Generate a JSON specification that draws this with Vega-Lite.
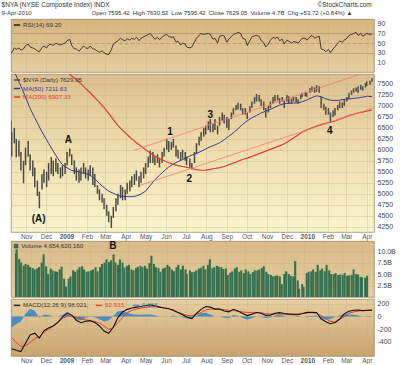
{
"$schema": "https://vega.github.io/schema/vega-lite/v6.json",
"autosize": {"type": "pad"},
"padding": {"left": 1, "top": 1, "right": 0, "bottom": 0},
"background": "white",
"title": {
 "text": "$NYA (NYSE Composite Index) INDX\u2003\u2003\u2003\u2003\u2003\u2003\u2003\u2003\u2003\u2003\u2003\u2003\u2003\u2003\u2003\u2003\u2003\u2003\u2003\u2003\u2003\u2003\u2003\u2003\u2003\u2003\u2003\u2003\u2003\u2003\u2003\u2003©StockCharts.com",
 "subtitle": "9-Apr-2010\u2003\u2003\u2003\u2003\u2003\u2003\u2003\u2003\u2003\u2003Open 7595.42\u2002High 7630.52\u2002Low 7595.42\u2002Close 7629.05\u2002Volume 4.7B\u2002Chg +53.72 (+0.84%) ▲",
 "anchor": "start", "font": "Liberation Sans", "fontSize": 6.5, "fontWeight": "normal", "color": "#333",
 "subtitleFont": "Liberation Sans", "subtitleFontSize": 6, "subtitleColor": "#333", "subtitlePadding": 1.5,
 "offset": 3, "dx": -9
},
"config": {
 "font": "Liberation Sans",
 "view": {"stroke": "#9c8c6c", "strokeWidth": 0.8},
 "axis": {"labelFont": "Liberation Sans", "labelFontSize": 7, "labelColor": "#444", "domain": false, "ticks": false, "gridColor": "#bfae88", "gridOpacity": 0.55, "gridWidth": 0.6, "title": null, "labelPadding": 3, "labelOverlap": false, "labelFlush": false},
 "legend": {"orient": "top-left", "title": null, "offset": 1, "padding": 1, "symbolType": "stroke", "symbolSize": 40, "symbolStrokeWidth": 1.5, "labelFontSize": 6.2, "labelFont": "Liberation Sans", "labelColor": "#333", "rowPadding": 0.5, "labelOffset": 2, "columnPadding": 3}
},
"datasets": {
 "daily": [
{"d":"2008-10-09","h":6660,"l":6100,"v":9.5,"r":32},{"d":"2008-10-10","h":6400,"l":5850,"v":10.4,"r":30},
{"d":"2008-10-14","h":6500,"l":6150,"v":8.3,"r":40},{"d":"2008-10-17","h":6250,"l":5830,"v":7.5,"r":37},
{"d":"2008-10-21","h":6210,"l":5850,"v":6.8,"r":40},{"d":"2008-10-24","h":5950,"l":5530,"v":7.2,"r":35},
{"d":"2008-10-28","h":5750,"l":5240,"v":7.0,"r":38},{"d":"2008-10-31","h":6050,"l":5650,"v":6.5,"r":45},
{"d":"2008-11-04","h":6200,"l":5850,"v":6.3,"r":48},{"d":"2008-11-07","h":5900,"l":5530,"v":6.0,"r":42},
{"d":"2008-11-11","h":5760,"l":5400,"v":6.2,"r":40},{"d":"2008-11-14","h":5600,"l":5150,"v":6.5,"r":38},
{"d":"2008-11-18","h":5300,"l":4950,"v":7.5,"r":34},{"d":"2008-11-21","h":5050,"l":4670,"v":9.3,"r":32},
{"d":"2008-11-25","h":5450,"l":5100,"v":6.7,"r":41},{"d":"2008-11-28","h":5550,"l":5250,"v":5.0,"r":44},
{"d":"2008-12-02","h":5500,"l":5150,"v":6.2,"r":40},{"d":"2008-12-05","h":5700,"l":5300,"v":5.8,"r":46},
{"d":"2008-12-09","h":5830,"l":5450,"v":5.6,"r":48},{"d":"2008-12-12","h":5750,"l":5400,"v":5.5,"r":45},
{"d":"2008-12-16","h":5800,"l":5500,"v":6.0,"r":50},{"d":"2008-12-19","h":5700,"l":5450,"v":6.6,"r":48},
{"d":"2008-12-23","h":5600,"l":5350,"v":4.0,"r":46},{"d":"2008-12-26","h":5650,"l":5400,"v":2.3,"r":48},
{"d":"2008-12-30","h":5700,"l":5450,"v":4.0,"r":50},{"d":"2009-01-02","h":5950,"l":5650,"v":4.5,"r":55},
{"d":"2009-01-06","h":6030,"l":5850,"v":5.8,"r":58},{"d":"2009-01-09","h":5900,"l":5650,"v":5.5,"r":45},
{"d":"2009-01-13","h":5760,"l":5450,"v":6.0,"r":38},{"d":"2009-01-16","h":5600,"l":5300,"v":6.5,"r":38},
{"d":"2009-01-20","h":5550,"l":5250,"v":6.7,"r":33},{"d":"2009-01-23","h":5600,"l":5300,"v":6.0,"r":38},
{"d":"2009-01-27","h":5700,"l":5450,"v":5.5,"r":44},{"d":"2009-01-30","h":5600,"l":5350,"v":5.6,"r":40},
{"d":"2009-02-03","h":5550,"l":5300,"v":5.8,"r":39},{"d":"2009-02-06","h":5650,"l":5400,"v":6.0,"r":44},
{"d":"2009-02-10","h":5600,"l":5200,"v":6.5,"r":38},{"d":"2009-02-13","h":5450,"l":5150,"v":5.6,"r":37},
{"d":"2009-02-17","h":5200,"l":5000,"v":6.5,"r":33},{"d":"2009-02-20","h":5100,"l":4850,"v":7.2,"r":31},
{"d":"2009-02-24","h":5000,"l":4800,"v":7.5,"r":34},{"d":"2009-02-27","h":4900,"l":4650,"v":8.2,"r":30},
{"d":"2009-03-03","h":4750,"l":4500,"v":7.6,"r":27},{"d":"2009-03-06","h":4600,"l":4350,"v":8.0,"r":26},
{"d":"2009-03-10","h":4500,"l":4220,"v":9.3,"r":36},{"d":"2009-03-13","h":4700,"l":4450,"v":7.5,"r":48},
{"d":"2009-03-17","h":4900,"l":4600,"v":7.0,"r":52},{"d":"2009-03-20","h":5000,"l":4750,"v":8.2,"r":55},
{"d":"2009-03-24","h":5200,"l":4900,"v":7.5,"r":60},{"d":"2009-03-27","h":5150,"l":4850,"v":6.4,"r":57},
{"d":"2009-03-31","h":5100,"l":4850,"v":6.8,"r":55},{"d":"2009-04-03","h":5250,"l":5000,"v":7.0,"r":59},
{"d":"2009-04-07","h":5300,"l":5050,"v":6.0,"r":56},{"d":"2009-04-10","h":5400,"l":5150,"v":5.8,"r":60},
{"d":"2009-04-14","h":5450,"l":5200,"v":6.3,"r":58},{"d":"2009-04-17","h":5530,"l":5300,"v":6.6,"r":62},
{"d":"2009-04-21","h":5400,"l":5150,"v":6.8,"r":55},{"d":"2009-04-24","h":5500,"l":5250,"v":6.5,"r":60},
{"d":"2009-04-28","h":5600,"l":5350,"v":6.8,"r":63},{"d":"2009-05-01","h":5700,"l":5450,"v":6.2,"r":65},
{"d":"2009-05-05","h":5850,"l":5600,"v":7.4,"r":68},{"d":"2009-05-08","h":5980,"l":5700,"v":9.0,"r":70},
{"d":"2009-05-12","h":5950,"l":5700,"v":7.2,"r":63},{"d":"2009-05-15","h":5850,"l":5650,"v":6.5,"r":58},
{"d":"2009-05-19","h":5900,"l":5700,"v":6.3,"r":62},{"d":"2009-05-22","h":5800,"l":5600,"v":5.5,"r":57},
{"d":"2009-05-26","h":5950,"l":5700,"v":6.2,"r":62},{"d":"2009-05-29","h":6050,"l":5850,"v":6.4,"r":66},
{"d":"2009-06-02","h":6250,"l":6000,"v":7.0,"r":68},{"d":"2009-06-05","h":6200,"l":5950,"v":6.6,"r":64},
{"d":"2009-06-09","h":6180,"l":6000,"v":6.0,"r":62},{"d":"2009-06-12","h":6250,"l":6050,"v":5.6,"r":63},
{"d":"2009-06-16","h":6100,"l":5850,"v":6.5,"r":52},{"d":"2009-06-19","h":6000,"l":5800,"v":7.0,"r":54},
{"d":"2009-06-23","h":5950,"l":5750,"v":6.0,"r":46},{"d":"2009-06-26","h":6000,"l":5800,"v":6.8,"r":50},
{"d":"2009-06-30","h":5950,"l":5750,"v":6.0,"r":48},{"d":"2009-07-02","h":5850,"l":5650,"v":5.0,"r":42},
{"d":"2009-07-07","h":5800,"l":5600,"v":5.8,"r":40},{"d":"2009-07-10","h":5700,"l":5550,"v":5.4,"r":42},
{"d":"2009-07-14","h":5950,"l":5700,"v":5.5,"r":52},{"d":"2009-07-17","h":6150,"l":5900,"v":5.8,"r":60},
{"d":"2009-07-21","h":6300,"l":6100,"v":6.2,"r":66},{"d":"2009-07-24","h":6400,"l":6200,"v":6.4,"r":70},
{"d":"2009-07-28","h":6500,"l":6300,"v":6.8,"r":68},{"d":"2009-07-31","h":6550,"l":6350,"v":6.0,"r":69},
{"d":"2009-08-04","h":6650,"l":6450,"v":7.0,"r":70},{"d":"2009-08-07","h":6700,"l":6400,"v":8.2,"r":68},
{"d":"2009-08-11","h":6600,"l":6400,"v":6.3,"r":58},{"d":"2009-08-14","h":6700,"l":6450,"v":6.5,"r":60},
{"d":"2009-08-18","h":6550,"l":6350,"v":6.8,"r":50},{"d":"2009-08-21","h":6750,"l":6550,"v":6.6,"r":64},
{"d":"2009-08-25","h":6850,"l":6650,"v":6.5,"r":66},{"d":"2009-08-28","h":6800,"l":6600,"v":6.1,"r":65},
{"d":"2009-09-01","h":6750,"l":6500,"v":6.2,"r":52},{"d":"2009-09-04","h":6700,"l":6450,"v":4.8,"r":58},
{"d":"2009-09-08","h":6850,"l":6700,"v":5.3,"r":64},{"d":"2009-09-11","h":6950,"l":6800,"v":5.6,"r":68},
{"d":"2009-09-15","h":7020,"l":6900,"v":6.2,"r":70},{"d":"2009-09-18","h":7070,"l":6920,"v":6.5,"r":72},
{"d":"2009-09-22","h":7050,"l":6900,"v":5.5,"r":70},{"d":"2009-09-25","h":6950,"l":6800,"v":5.8,"r":60},
{"d":"2009-09-29","h":6950,"l":6800,"v":5.2,"r":58},{"d":"2009-10-02","h":6850,"l":6700,"v":6.0,"r":45},
{"d":"2009-10-06","h":7000,"l":6850,"v":5.6,"r":55},{"d":"2009-10-09","h":7100,"l":6950,"v":5.0,"r":63},
{"d":"2009-10-13","h":7200,"l":7050,"v":5.4,"r":65},{"d":"2009-10-16","h":7270,"l":7100,"v":5.8,"r":66},
{"d":"2009-10-20","h":7250,"l":7100,"v":5.8,"r":64},{"d":"2009-10-23","h":7150,"l":7000,"v":6.0,"r":56},
{"d":"2009-10-27","h":7100,"l":6900,"v":6.3,"r":50},{"d":"2009-10-30","h":6950,"l":6730,"v":6.7,"r":42},
{"d":"2009-11-03","h":7000,"l":6850,"v":5.5,"r":48},{"d":"2009-11-06","h":7100,"l":6950,"v":5.0,"r":56},
{"d":"2009-11-10","h":7200,"l":7050,"v":4.8,"r":62},{"d":"2009-11-13","h":7250,"l":7100,"v":4.5,"r":60},
{"d":"2009-11-17","h":7250,"l":7120,"v":4.6,"r":62},{"d":"2009-11-20","h":7180,"l":7050,"v":4.7,"r":55},
{"d":"2009-11-24","h":7200,"l":7100,"v":4.5,"r":58},{"d":"2009-11-27","h":7120,"l":6950,"v":2.8,"r":48},
{"d":"2009-12-01","h":7250,"l":7100,"v":5.0,"r":56},{"d":"2009-12-04","h":7220,"l":7050,"v":5.6,"r":54},
{"d":"2009-12-08","h":7170,"l":7050,"v":5.0,"r":50},{"d":"2009-12-11","h":7200,"l":7100,"v":4.6,"r":53},
{"d":"2009-12-15","h":7200,"l":7080,"v":4.5,"r":52},{"d":"2009-12-18","h":7150,"l":7050,"v":7.8,"r":50},
{"d":"2009-12-22","h":7250,"l":7150,"v":3.6,"r":56},{"d":"2009-12-24","h":7300,"l":7200,"v":1.8,"r":60},
{"d":"2009-12-29","h":7320,"l":7220,"v":2.8,"r":60},{"d":"2009-12-31","h":7300,"l":7200,"v":2.2,"r":56},
{"d":"2010-01-05","h":7400,"l":7300,"v":5.2,"r":63},{"d":"2010-01-08","h":7450,"l":7330,"v":5.5,"r":66},
{"d":"2010-01-12","h":7420,"l":7300,"v":5.6,"r":60},{"d":"2010-01-15","h":7470,"l":7320,"v":6.0,"r":62},
{"d":"2010-01-19","h":7450,"l":7300,"v":5.5,"r":64},{"d":"2010-01-22","h":7200,"l":6950,"v":7.0,"r":38},
{"d":"2010-01-26","h":7050,"l":6900,"v":5.8,"r":36},{"d":"2010-01-29","h":6980,"l":6800,"v":6.2,"r":32},
{"d":"2010-02-02","h":6950,"l":6800,"v":5.6,"r":37},{"d":"2010-02-05","h":6850,"l":6620,"v":7.0,"r":30},
{"d":"2010-02-09","h":6900,"l":6750,"v":5.8,"r":38},{"d":"2010-02-12","h":6950,"l":6780,"v":5.0,"r":42},
{"d":"2010-02-16","h":7020,"l":6900,"v":5.0,"r":50},{"d":"2010-02-19","h":7100,"l":6950,"v":5.2,"r":54},
{"d":"2010-02-23","h":7080,"l":6950,"v":4.8,"r":52},{"d":"2010-02-26","h":7150,"l":7000,"v":4.9,"r":56},
{"d":"2010-03-02","h":7200,"l":7100,"v":4.8,"r":60},{"d":"2010-03-05","h":7300,"l":7150,"v":5.2,"r":66},
{"d":"2010-03-09","h":7350,"l":7250,"v":4.6,"r":68},{"d":"2010-03-12","h":7400,"l":7300,"v":4.7,"r":70},
{"d":"2010-03-16","h":7420,"l":7320,"v":4.8,"r":72},{"d":"2010-03-19","h":7450,"l":7300,"v":6.0,"r":66},
{"d":"2010-03-23","h":7480,"l":7370,"v":5.0,"r":70},{"d":"2010-03-26","h":7450,"l":7350,"v":4.9,"r":64},
{"d":"2010-03-30","h":7520,"l":7420,"v":4.4,"r":68},{"d":"2010-04-01","h":7560,"l":7450,"v":4.3,"r":70},
{"d":"2010-04-06","h":7570,"l":7480,"v":4.2,"r":68},{"d":"2010-04-09","h":7630,"l":7550,"v":4.65,"r":69.2}
 ],
 "wk": [
{"d":"2008-10-10","a":7900,"b":9050,"m":-505,"s":-330,"h":-175},
{"d":"2008-10-17","a":7680,"b":8950,"m":-530,"s":-410,"h":-120},
{"d":"2008-10-24","a":7450,"b":8850,"m":-550,"s":-470,"h":-80},
{"d":"2008-10-31","a":7200,"b":8750,"m":-420,"s":-460,"h":40},
{"d":"2008-11-07","a":6940,"b":8640,"m":-290,"s":-410,"h":120},
{"d":"2008-11-14","a":6730,"b":8530,"m":-262,"s":-345,"h":83},
{"d":"2008-11-21","a":6520,"b":8420,"m":-340,"s":-320,"h":-20},
{"d":"2008-11-28","a":6330,"b":8310,"m":-225,"s":-250,"h":25},
{"d":"2008-12-05","a":6150,"b":8200,"m":-180,"s":-200,"h":20},
{"d":"2008-12-12","a":5970,"b":8090,"m":-150,"s":-150,"h":0},
{"d":"2008-12-19","a":5800,"b":7980,"m":-95,"s":-95,"h":0},
{"d":"2008-12-26","a":5660,"b":7870,"m":-10,"s":-30,"h":20},
{"d":"2009-01-02","a":5590,"b":7780,"m":55,"s":0,"h":55},
{"d":"2009-01-09","a":5530,"b":7680,"m":20,"s":10,"h":10},
{"d":"2009-01-16","a":5510,"b":7600,"m":-60,"s":-15,"h":-45},
{"d":"2009-01-23","a":5490,"b":7500,"m":-100,"s":-40,"h":-60},
{"d":"2009-01-30","a":5460,"b":7400,"m":-75,"s":-55,"h":-20},
{"d":"2009-02-06","a":5425,"b":7300,"m":-70,"s":-64,"h":-6},
{"d":"2009-02-13","a":5340,"b":7190,"m":-95,"s":-80,"h":-15},
{"d":"2009-02-20","a":5230,"b":7080,"m":-150,"s":-105,"h":-45},
{"d":"2009-02-27","a":5140,"b":6960,"m":-230,"s":-150,"h":-80},
{"d":"2009-03-06","a":5060,"b":6830,"m":-265,"s":-205,"h":-60},
{"d":"2009-03-13","a":5010,"b":6690,"m":-170,"s":-175,"h":5},
{"d":"2009-03-20","a":4965,"b":6550,"m":-20,"s":-100,"h":80},
{"d":"2009-03-27","a":4940,"b":6450,"m":70,"s":-20,"h":90},
{"d":"2009-04-03","a":4935,"b":6350,"m":110,"s":55,"h":55},
{"d":"2009-04-10","a":4935,"b":6250,"m":130,"s":95,"h":35},
{"d":"2009-04-17","a":4950,"b":6160,"m":145,"s":115,"h":30},
{"d":"2009-04-24","a":4995,"b":6080,"m":155,"s":130,"h":25},
{"d":"2009-05-01","a":5060,"b":6000,"m":170,"s":140,"h":30},
{"d":"2009-05-08","a":5190,"b":5930,"m":180,"s":150,"h":30},
{"d":"2009-05-15","a":5320,"b":5860,"m":165,"s":150,"h":15},
{"d":"2009-05-22","a":5420,"b":5800,"m":145,"s":145,"h":0},
{"d":"2009-05-29","a":5520,"b":5750,"m":130,"s":135,"h":-5},
{"d":"2009-06-05","a":5610,"b":5705,"m":120,"s":120,"h":0},
{"d":"2009-06-12","a":5680,"b":5670,"m":100,"s":85,"h":15},
{"d":"2009-06-19","a":5730,"b":5640,"m":60,"s":60,"h":0},
{"d":"2009-06-26","a":5780,"b":5620,"m":25,"s":40,"h":-15},
{"d":"2009-07-03","a":5830,"b":5600,"m":-15,"s":15,"h":-30},
{"d":"2009-07-10","a":5880,"b":5575,"m":-35,"s":10,"h":-45},
{"d":"2009-07-17","a":5920,"b":5550,"m":45,"s":30,"h":15},
{"d":"2009-07-24","a":5965,"b":5535,"m":110,"s":60,"h":50},
{"d":"2009-07-31","a":6020,"b":5540,"m":155,"s":100,"h":55},
{"d":"2009-08-07","a":6070,"b":5555,"m":145,"s":115,"h":30},
{"d":"2009-08-14","a":6110,"b":5575,"m":114,"s":114,"h":0},
{"d":"2009-08-21","a":6160,"b":5595,"m":114,"s":114,"h":0},
{"d":"2009-08-28","a":6230,"b":5620,"m":85,"s":105,"h":-20},
{"d":"2009-09-04","a":6310,"b":5660,"m":70,"s":95,"h":-25},
{"d":"2009-09-11","a":6390,"b":5700,"m":110,"s":90,"h":20},
{"d":"2009-09-18","a":6480,"b":5740,"m":85,"s":80,"h":5},
{"d":"2009-09-25","a":6580,"b":5780,"m":45,"s":70,"h":-25},
{"d":"2009-10-02","a":6660,"b":5810,"m":12,"s":62,"h":-50},
{"d":"2009-10-09","a":6730,"b":5850,"m":35,"s":62,"h":-27},
{"d":"2009-10-16","a":6780,"b":5890,"m":60,"s":62,"h":-2},
{"d":"2009-10-23","a":6840,"b":5930,"m":50,"s":55,"h":-5},
{"d":"2009-10-30","a":6880,"b":5970,"m":15,"s":40,"h":-25},
{"d":"2009-11-06","a":6920,"b":6010,"m":20,"s":37,"h":-17},
{"d":"2009-11-13","a":6970,"b":6050,"m":50,"s":37,"h":13},
{"d":"2009-11-20","a":7020,"b":6090,"m":58,"s":37,"h":21},
{"d":"2009-11-27","a":7050,"b":6140,"m":45,"s":37,"h":8},
{"d":"2009-12-04","a":7060,"b":6200,"m":35,"s":37,"h":-2},
{"d":"2009-12-11","a":7065,"b":6270,"m":30,"s":37,"h":-7},
{"d":"2009-12-18","a":7070,"b":6340,"m":26,"s":37,"h":-11},
{"d":"2009-12-25","a":7100,"b":6410,"m":45,"s":45,"h":0},
{"d":"2010-01-01","a":7140,"b":6460,"m":62,"s":55,"h":7},
{"d":"2010-01-08","a":7190,"b":6500,"m":65,"s":60,"h":5},
{"d":"2010-01-15","a":7230,"b":6540,"m":60,"s":45,"h":15},
{"d":"2010-01-22","a":7210,"b":6575,"m":-40,"s":11,"h":-51},
{"d":"2010-01-29","a":7160,"b":6605,"m":-85,"s":-40,"h":-45},
{"d":"2010-02-05","a":7130,"b":6630,"m":-115,"s":-75,"h":-40},
{"d":"2010-02-12","a":7120,"b":6660,"m":-95,"s":-90,"h":-5},
{"d":"2010-02-19","a":7130,"b":6700,"m":-40,"s":-50,"h":10},
{"d":"2010-02-26","a":7150,"b":6740,"m":40,"s":-5,"h":45},
{"d":"2010-03-05","a":7160,"b":6780,"m":80,"s":50,"h":30},
{"d":"2010-03-12","a":7170,"b":6810,"m":95,"s":70,"h":25},
{"d":"2010-03-19","a":7185,"b":6840,"m":99,"s":85,"h":14},
{"d":"2010-03-26","a":7200,"b":6860,"m":90,"s":90,"h":0},
{"d":"2010-04-02","a":7220,"b":6885,"m":95,"s":92,"h":3},
{"d":"2010-04-09","a":7212,"b":6907,"m":98,"s":93,"h":5}
 ],
 "trend": [
{"k":"u","d":"2009-04-13","p":5986},{"k":"u","d":"2010-04-12","p":7830},
{"k":"l","d":"2009-04-23","p":5195},{"k":"l","d":"2010-04-12","p":6958}
 ],
 "ann": [
{"t":"(A)","d":"2008-11-20","p":4426},{"t":"A","d":"2009-01-04","p":6223},
{"t":"1","d":"2009-06-07","p":6400},{"t":"2","d":"2009-07-06","p":5335},
{"t":"3","d":"2009-08-07","p":6800},{"t":"4","d":"2010-02-04","p":6431}
 ],
 "annv": [{"t":"B","d":"2009-03-09","v":11.15}]
},
"spacing": 0,
"resolve": {"scale": {"color": "independent"}, "legend": {"color": "independent"}},
"vconcat": [
 {
  "width": 363, "height": 53,
  "view": {"fill": {"gradient": "linear", "x1": 0, "y1": 0, "x2": 0, "y2": 1, "stops": [{"offset": 0, "color": "#d6b47c"}, {"offset": 1, "color": "#e6cfa0"}]}},
  "data": {"name": "daily"},
  "mark": {"type": "line", "strokeWidth": 0.8, "clip": true},
  "encoding": {
   "x": {"field": "d", "type": "temporal", "scale": {"domain": [{"year": 2008, "month": 10, "date": 9}, {"year": 2010, "month": 4, "date": 12}]}, "axis": {"orient": "bottom", "grid": true, "labels": false, "tickCount": {"interval": "month", "step": 1}}},
   "y": {"field": "r", "type": "quantitative", "scale": {"domain": [-10, 100], "nice": false, "zero": false}, "axis": {"orient": "right", "values": [10, 30, 50, 70, 90], "tickCount": 30, "labelOverlap": false, "labelBound": false, "grid": true, "gridColor": "#7d7462", "gridWidth": 0.8, "gridOpacity": {"condition": {"test": "datum.value == 30 || datum.value == 50 || datum.value == 70", "value": 0.9}, "value": 0}, "gridDash": {"condition": {"test": "datum.value == 50", "value": [4, 2]}, "value": []}}},
   "color": {"datum": "RSI(14) 69.20", "scale": {"range": ["#1a1a1a"]}, "legend": {"labelColor": "#333"}}
  }
 },
 {
  "width": 363, "height": 158,
  "view": {"fill": {"gradient": "linear", "x1": 0, "y1": 0, "x2": 0, "y2": 1, "stops": [{"offset": 0, "color": "#dcbf8e"}, {"offset": 0.5, "color": "#f0dfae"}, {"offset": 1, "color": "#faf5cf"}]}},
  "encoding": {
   "x": {"field": "d", "type": "temporal", "scale": {"domain": [{"year": 2008, "month": 10, "date": 9}, {"year": 2010, "month": 4, "date": 12}]}, "axis": {"orient": "bottom", "grid": true, "labels": true, "labelOverlap": false, "tickCount": {"interval": "month", "step": 1}, "labelExpr": "month(datum.value) == 0 ? timeFormat(datum.value, '%Y') : timeFormat(datum.value, '%b')", "labelFontWeight": {"condition": {"test": "month(datum.value) == 0", "value": "bold"}, "value": "normal"}, "labelPadding": 1, "labelFontSize": 6.5, "labelColor": "#555"}}
  },
  "layer": [
   {"data": {"name": "daily"}, "mark": {"type": "rule", "strokeWidth": 1.5, "clip": true},
    "encoding": {
     "y": {"field": "l", "type": "quantitative", "scale": {"domain": [4130, 7726], "nice": false, "zero": false}, "axis": {"orient": "right", "values": [4250, 4500, 4750, 5000, 5250, 5500, 5750, 6000, 6250, 6500, 6750, 7000, 7250, 7500], "tickCount": 30, "labelOverlap": false, "format": "d", "grid": true}},
     "y2": {"field": "h"},
     "color": {"datum": "$NYA (Daily) 7629.05", "scale": {"domain": ["$NYA (Daily) 7629.05", "MA(50) 7211.63", "MA(200) 6907.33"], "range": ["#4c4b44", "#3a3a9c", "#e03a30"]}, "legend": {"labelColor": {"expr": "datum.value == 'MA(50) 7211.63' ? '#3a3a9c' : datum.value == 'MA(200) 6907.33' ? '#e03a30' : '#333'"}}}
    }},
   {"data": {"name": "wk"}, "mark": {"type": "line", "strokeWidth": 1, "clip": true},
    "encoding": {"y": {"field": "a", "type": "quantitative"}, "color": {"datum": "MA(50) 7211.63"}}},
   {"data": {"name": "wk"}, "mark": {"type": "line", "strokeWidth": 1.2, "clip": true},
    "encoding": {"y": {"field": "b", "type": "quantitative"}, "color": {"datum": "MA(200) 6907.33"}}},
   {"data": {"name": "trend"}, "mark": {"type": "line", "strokeWidth": 0.8, "color": "#f07a74", "clip": true},
    "encoding": {"y": {"field": "p", "type": "quantitative"}, "detail": {"field": "k"}}},
   {"data": {"name": "ann"}, "mark": {"type": "text", "font": "Liberation Sans", "fontWeight": "bold", "fontSize": 10, "color": "#111"},
    "encoding": {"y": {"field": "p", "type": "quantitative"}, "text": {"field": "t"}}}
  ]
 },
 {
  "width": 363, "height": 56,
  "view": {"fill": {"gradient": "linear", "x1": 0, "y1": 0, "x2": 0, "y2": 1, "stops": [{"offset": 0, "color": "#d9bb88"}, {"offset": 1, "color": "#e4cd9e"}]}},
  "encoding": {
   "x": {"field": "d", "type": "temporal", "scale": {"domain": [{"year": 2008, "month": 10, "date": 9}, {"year": 2010, "month": 4, "date": 12}]}, "axis": {"orient": "bottom", "grid": true, "labels": false, "tickCount": {"interval": "month", "step": 1}}}
  },
  "layer": [
   {"data": {"name": "daily"}, "mark": {"type": "bar", "width": 2.1, "clip": true},
    "encoding": {
     "y": {"field": "v", "type": "quantitative", "scale": {"domain": [0, 12.2], "nice": false}, "axis": {"orient": "right", "values": [2.5, 5, 7.5, 10], "tickCount": 30, "labelOverlap": false, "labelExpr": "format(datum.value, '.1f') + 'B'", "grid": true}},
     "color": {"datum": "Volume 4,654,620,160", "scale": {"range": ["#34704f"]}, "legend": {"symbolType": "square", "symbolSize": 20}}
    }},
   {"data": {"name": "annv"}, "mark": {"type": "text", "font": "Liberation Sans", "fontWeight": "bold", "fontSize": 10, "color": "#111"},
    "encoding": {"y": {"field": "v", "type": "quantitative"}, "text": {"field": "t"}}}
  ]
 },
 {
  "width": 363, "height": 57,
  "view": {"fill": {"gradient": "linear", "x1": 0, "y1": 0, "x2": 0, "y2": 1, "stops": [{"offset": 0, "color": "#e6cfa0"}, {"offset": 1, "color": "#c9a36e"}]}},
  "encoding": {
   "x": {"field": "d", "type": "temporal", "scale": {"domain": [{"year": 2008, "month": 10, "date": 9}, {"year": 2010, "month": 4, "date": 12}]}, "axis": {"orient": "bottom", "grid": true, "labels": true, "labelOverlap": false, "tickCount": {"interval": "month", "step": 1}, "labelExpr": "month(datum.value) == 0 ? timeFormat(datum.value, '%Y') : timeFormat(datum.value, '%b')", "labelFontWeight": {"condition": {"test": "month(datum.value) == 0", "value": "bold"}, "value": "normal"}, "labelPadding": 1, "labelFontSize": 6.5, "labelColor": "#555"}}
  },
  "layer": [
   {"data": {"name": "wk"}, "mark": {"type": "area", "clip": true, "opacity": 0.9},
    "encoding": {
     "y": {"field": "h", "type": "quantitative", "scale": {"domain": [-620, 272], "nice": false, "zero": false}, "axis": {"orient": "right", "values": [200, 0, -200, -400], "tickCount": 30, "labelOverlap": false, "labelExpr": "'' + datum.value", "grid": true}},
     "y2": {"datum": 0},
     "color": {"datum": "5.088", "scale": {"domain": ["MACD(12,26,9) 98.021,", "92.933,", "5.088"], "range": ["#111111", "#e83a2a", "#3a86c8"]}, "legend": {"direction": "horizontal", "labelColor": {"expr": "datum.value == '92.933,' ? '#e83a2a' : datum.value == '5.088' ? '#3a86c8' : '#333'"}}}
    }},
   {"data": {"values": [{}]}, "mark": {"type": "rule", "color": "#8fb0cc", "strokeWidth": 1}, "encoding": {"y": {"datum": 0}}},
   {"data": {"name": "wk"}, "mark": {"type": "line", "strokeWidth": 1, "clip": true},
    "encoding": {"y": {"field": "s", "type": "quantitative"}, "color": {"datum": "92.933,"}}},
   {"data": {"name": "wk"}, "mark": {"type": "line", "strokeWidth": 1.1, "clip": true},
    "encoding": {"y": {"field": "m", "type": "quantitative"}, "color": {"datum": "MACD(12,26,9) 98.021,"}}}
  ]
 }
]
}
